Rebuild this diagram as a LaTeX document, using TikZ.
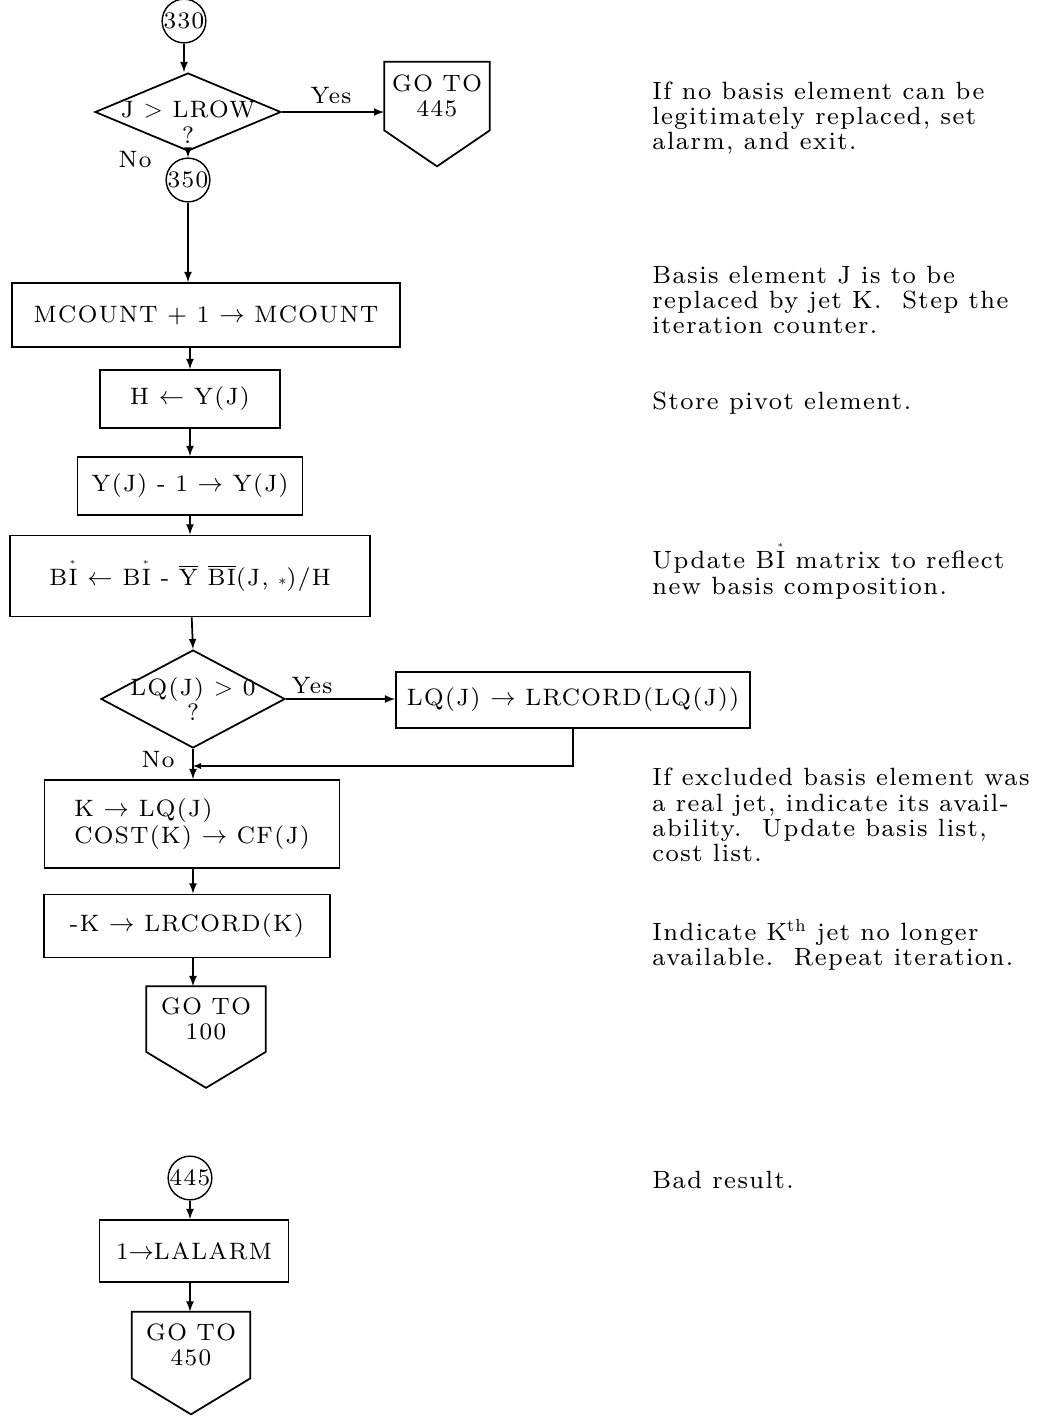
\documentclass[tikz,border=0pt]{standalone}
\usepackage{fontspec}
\setmainfont{lmroman8-regular.otf}[LetterSpace=6]
\usepackage{tikz}
\usetikzlibrary{arrows,shapes.geometric}

\newcommand{\gotoshape}[1]{\draw[line width=1pt] (#1.north west) -- (#1.north east) -- (#1.south east) -- ([yshift=-0.72cm]#1.south) -- (#1.south west) -- cycle;}
\newcommand{\bistar}{BI\llap{\raisebox{2ex}{\tiny$\ast$}\kern1pt}}

\begin{document}
\begin{tikzpicture}[x=0.02cm,y=-0.02cm,
    font=\fontsize{13.5}{14.4}\selectfont,
    every node/.style={inner sep=0pt},
    flow/.style={line width=1pt,-latex},
    box/.style={draw,line width=1pt,align=center},
    conn/.style={draw,circle,line width=0.8pt,minimum size=0.84cm},
    test/.style={draw,diamond,line width=1pt},
    note/.style={anchor=west,align=left,font=\fontsize{14.2}{14.4}\selectfont}]
  \useasboundingbox (0,0) rectangle (1042,1418);

  % main path
  \node[conn] (c330) at (184,21) {330};
  \node[test,minimum width=3.72cm,minimum height=1.56cm,
        label={[align=center,yshift=-0.2cm]center:J $>$ LROW\\?}] (jtest) at (188,112) {};
  \node[minimum width=2.1cm,minimum height=1.36cm,align=center] (goto445) at (437,96) {GO TO\\445};
  \gotoshape{goto445}
  \node (yes1) at (331,96) {Yes};
  \node (no1) at (135,160) {No};
  \node[conn] (c350) at (188,180) {350};
  \node[box,minimum width=7.76cm,minimum height=1.28cm] (mcount) at (206,315) {MCOUNT + 1 $\rightarrow$ MCOUNT};
  \node[box,minimum width=3.6cm,minimum height=1.16cm] (hpiv) at (190,399) {H $\leftarrow$ Y(J)};
  \node[box,minimum width=4.5cm,minimum height=1.16cm] (ydec) at (190,486) {Y(J) - 1 $\rightarrow$ Y(J)};
  \node[box,minimum width=7.2cm,minimum height=1.62cm] (biupd) at (190,576)
    {\bistar\ $\leftarrow$ \bistar\ - $\overline{\mbox{Y}}$ $\overline{\mbox{BI}}$(J, {\small$\ast$})/H};
  \node[test,minimum width=3.68cm,minimum height=1.96cm,
        label={[align=center]center:LQ(J) $>$ 0\\?}] (lqtest) at (193,699) {};
  \node[box,minimum width=7.08cm,minimum height=1.12cm] (lqset) at (573,700) {LQ(J) $\rightarrow$ LRCORD(LQ(J))};
  \node (yes2) at (312,686) {Yes};
  \node (no2) at (158,760) {No};
  \coordinate (merge) at (193,766);
  \node[box,minimum width=5.9cm,minimum height=1.76cm,align=left,font=\fontsize{13.5}{15}\selectfont] (kswap) at (192,824)
    {K $\rightarrow$ LQ(J)\\COST(K) $\rightarrow$ CF(J)};
  \node[box,minimum width=5.72cm,minimum height=1.26cm] (kneg) at (187,926) {-K $\rightarrow$ LRCORD(K)};
  \node[minimum width=2.38cm,minimum height=1.3cm,align=center] (goto100) at (206,1019) {GO TO\\100};
  \gotoshape{goto100}

  % alarm path
  \node[conn] (c445) at (190,1178) {445};
  \node[box,minimum width=3.78cm,minimum height=1.24cm] (lalarm) at (194,1251) {1$\rightarrow$LALARM};
  \node[minimum width=2.36cm,minimum height=1.32cm,align=center] (goto450) at (191,1345) {GO TO\\450};
  \gotoshape{goto450}

  % connectors
  \draw[flow] (c330) -- (c330 |- jtest.north);
  \draw[flow] (jtest.east) -- (goto445.west |- jtest.east);
  \draw[flow] (jtest.south) -- (c350);
  \draw[flow] (c350) -- (c350 |- mcount.north);
  \draw[flow] (hpiv |- mcount.south) -- (hpiv);
  \draw[flow] (hpiv) -- (hpiv |- ydec.north);
  \draw[flow] (ydec) -- (ydec |- biupd.north);
  \draw[flow] (biupd) -- (lqtest.north);
  \draw[flow] (lqtest.east) -- (lqset.west |- lqtest.east);
  \draw[line width=0.6pt,-latex] (lqset.south) |- (merge);
  \draw[flow] (lqtest.south) -- (lqtest |- kswap.north);
  \draw[flow] (lqtest |- kswap.south) -- (lqtest |- kneg.north);
  \draw[flow] (lqtest |- kneg.south) -- (lqtest |- goto100.north);
  \draw[flow] (c445) -- (c445 |- lalarm.north);
  \draw[flow] (c445 |- lalarm.south) -- (c445 |- goto450.north);

  % comments
  \node[note] (n1) at (652,118) {If no basis element can be\\legitimately replaced, set\\alarm, and exit.};
  \node[note] (n2) at (652,300) {Basis element J is to be\\replaced by jet K.\ \ Step the\\iteration counter.};
  \node[note] (n3) at (652,403) {Store pivot element.};
  \node[note] (n4) at (652,571) {Update \bistar\ matrix to reflect\\new basis composition.};
  \node[note] (n5) at (652,815) {If excluded basis element was\\a real jet, indicate its avail-\\ability.\ \ Update basis list,\\cost list.};
  \node[note] (n6) at (652,945) {Indicate K\textsuperscript{th} jet no longer\\available.\ \ Repeat iteration.};
  \node[note] (n7) at (652,1180) {Bad result.};
\end{tikzpicture}
\end{document}
